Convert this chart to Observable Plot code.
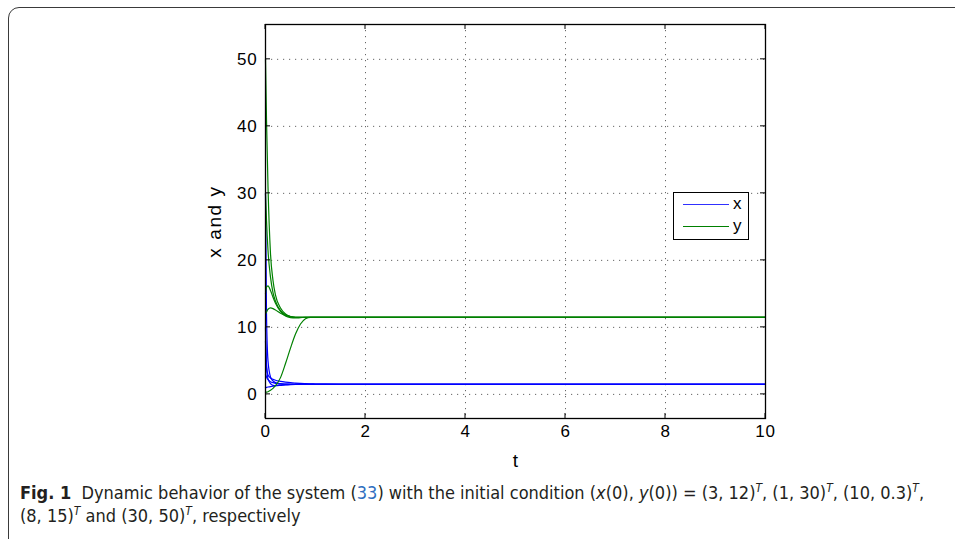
<!DOCTYPE html>
<html><head><meta charset="utf-8">
<script src="https://cdn.jsdelivr.net/npm/d3@7"></script>
<script src="https://cdn.jsdelivr.net/npm/@observablehq/plot@0.6"></script>
<style>
html,body{margin:0;padding:0;background:#fff;width:955px;height:539px;overflow:hidden;position:relative;}
#frame{position:absolute;left:8px;top:7px;width:1000px;height:545px;border:1.3px solid #3a3a3a;border-radius:11px;box-sizing:border-box;}
#chart{position:absolute;left:0;top:0;}
#chart svg, #chart svg text{font-family:"Liberation Sans",Arimo,Arial,Helvetica,sans-serif !important;}
#chart svg g[aria-label="x-axis tick label"] text, #chart svg g[aria-label="y-axis tick label"] text{letter-spacing:0.8px;}
#chart svg g[aria-label="y-axis label"] text{letter-spacing:1.6px;}
#legend{position:absolute;left:673px;top:192px;width:76px;height:48px;border:1px solid #000;background:#fff;box-sizing:border-box;font:17px "Liberation Sans",Arial,sans-serif;}
#legend .ln{position:absolute;left:9px;width:46px;height:0;border-top:1.2px solid;}
#legend .lb{position:absolute;left:59px;line-height:17px;}
#caption{position:absolute;left:20px;top:481px;font-size:18px;font-family:"DejaVu Sans Condensed","Liberation Sans Narrow",sans-serif;line-height:23px;color:#231f20;white-space:nowrap;}
#caption .sup{font-size:12px;vertical-align:0.55em;line-height:0;font-style:italic;}
#caption .ref{color:#2f6fc0;}
</style>
</head><body>
<div id="frame"></div>
<div id="chart"></div>
<div id="legend">
  <div class="ln" style="top:11px;border-color:#3030ff;"></div><div class="lb" style="top:2px;">x</div>
  <div class="ln" style="top:33px;border-color:#008000;"></div><div class="lb" style="top:24px;">y</div>
</div>
<div id="caption"><b>Fig. 1</b>&nbsp; Dynamic behavior of the system (<span class="ref">33</span>) with the initial condition (<i>x</i>(0), <i>y</i>(0)) = (3, 12)<span class="sup">T</span>, (1, 30)<span class="sup">T</span>, (10, 0.3)<span class="sup">T</span>,<br>(8, 15)<span class="sup">T</span> and (30, 50)<span class="sup">T</span>, respectively</div>
<script>
// time samples
const tValues = [0, 0.02, 0.05, 0.1, 0.15, 0.2, 0.3, 0.4, 0.5, 0.6, 0.7, 0.8, 0.9, 1.0, 1.2, 1.5, 2, 10];

// initial condition (3, 12)
const x1 = [3, 2.6, 2.2, 1.9, 1.75, 1.65, 1.56, 1.53, 1.51, 1.5, 1.5, 1.5, 1.5, 1.5, 1.5, 1.5, 1.5, 1.5];
const y1 = [12, 12.3, 12.7, 12.9, 12.8, 12.6, 12.1, 11.8, 11.6, 11.5, 11.5, 11.5, 11.5, 11.5, 11.5, 11.5, 11.5, 11.5];
// initial condition (1, 30)
const x2 = [1, 1.05, 1.1, 1.15, 1.22, 1.3, 1.4, 1.46, 1.49, 1.5, 1.5, 1.5, 1.5, 1.5, 1.5, 1.5, 1.5, 1.5];
const y2 = [30, 26, 21.5, 17.5, 15.2, 13.9, 12.5, 11.9, 11.6, 11.5, 11.5, 11.5, 11.5, 11.5, 11.5, 11.5, 11.5, 11.5];
// initial condition (10, 0.3)
const x3 = [10, 4.5, 2.9, 2.45, 2.25, 2.1, 1.95, 1.84, 1.75, 1.69, 1.64, 1.6, 1.57, 1.55, 1.52, 1.5, 1.5, 1.5];
const y3 = [0.3, 0.33, 0.4, 0.6, 0.9, 1.3, 2.5, 4.6, 6.9, 9.0, 10.5, 11.3, 11.5, 11.5, 11.5, 11.5, 11.5, 11.5];
// initial condition (8, 15)
const x4 = [8, 4.0, 2.3, 1.6, 1.35, 1.3, 1.35, 1.42, 1.46, 1.48, 1.49, 1.5, 1.5, 1.5, 1.5, 1.5, 1.5, 1.5];
const y4 = [15, 16, 16.2, 15.5, 14.5, 13.6, 12.4, 11.7, 11.45, 11.4, 11.45, 11.5, 11.5, 11.5, 11.5, 11.5, 11.5, 11.5];
// initial condition (30, 50)
const x5 = [30, 12, 5, 2.6, 2.0, 1.75, 1.6, 1.54, 1.51, 1.5, 1.5, 1.5, 1.5, 1.5, 1.5, 1.5, 1.5, 1.5];
const y5 = [50, 41, 31, 21, 17, 14.8, 12.9, 12.0, 11.6, 11.5, 11.5, 11.5, 11.5, 11.5, 11.5, 11.5, 11.5, 11.5];

const xTicks = [0, 2, 4, 6, 8, 10];
const yTicks = [0, 10, 20, 30, 40, 50];
const xDomain = [0, 10];
const yDomain = [-3.6, 55.2];

const xRuns = [x1, x2, x3, x4, x5];
const yRuns = [y1, y2, y3, y4, y5];
const rows = [];
xRuns.forEach((arr, r) => arr.forEach((v, i) => rows.push({t: tValues[i], v, variable: "x", run: "x" + r})));
yRuns.forEach((arr, r) => arr.forEach((v, i) => rows.push({t: tValues[i], v, variable: "y", run: "y" + r})));

function innerTicks(index, scales, values, dims) {
  const {x, y} = scales;
  const L = dims.marginLeft, R = dims.width - dims.marginRight;
  const T = dims.marginTop, B = dims.height - dims.marginBottom;
  const g = d3.create("svg:g").attr("stroke", "black").attr("stroke-width", 1);
  for (const v of xTicks) {
    const px = x(v);
    g.append("line").attr("x1", px).attr("x2", px).attr("y1", B).attr("y2", B - 5);
    g.append("line").attr("x1", px).attr("x2", px).attr("y1", T).attr("y2", T + 5);
  }
  for (const v of yTicks) {
    const py = y(v);
    g.append("line").attr("x1", L).attr("x2", L + 5).attr("y1", py).attr("y2", py);
    g.append("line").attr("x1", R).attr("x2", R - 5).attr("y1", py).attr("y2", py);
  }
  return g.node();
}

const chart = Plot.plot({
  width: 955,
  height: 472,
  marginLeft: 265,
  marginRight: 190,
  marginTop: 24,
  marginBottom: 54,
  style: {fontSize: "17px", color: "#000", background: "transparent"},
  x: {domain: xDomain},
  y: {domain: yDomain},
  color: {domain: ["x", "y"], range: ["#0000ff", "#008000"]},
  marks: [
    Plot.gridX(xTicks, {stroke: "#666", strokeOpacity: 1, strokeDasharray: "1.2,4.8"}),
    Plot.gridY(yTicks, {stroke: "#666", strokeOpacity: 1, strokeDasharray: "1.2,4.8"}),
    Plot.axisX(xTicks, {tickSize: 0, tickPadding: 6, fontSize: 17, label: null}),
    Plot.axisX({tickSize: 0, ticks: [], label: "t", labelAnchor: "center", labelArrow: "none", labelOffset: 48, fontSize: 19}),
    Plot.axisY(yTicks, {tickSize: 0, tickPadding: 8, fontSize: 17, label: null}),
    Plot.axisY({tickSize: 0, ticks: [], label: "x and y", labelAnchor: "center", labelArrow: "none", labelOffset: 58, fontSize: 19}),
    Plot.line(rows.filter(d => d.variable === "x"), {x: "t", y: "v", z: "run", stroke: "variable", strokeWidth: 1.2, curve: "monotone-x"}),
    Plot.line(rows.filter(d => d.variable === "y"), {x: "t", y: "v", z: "run", stroke: "variable", strokeWidth: 1.2, curve: "monotone-x"}),
    Plot.frame({stroke: "#000", strokeWidth: 1.3}),
    innerTicks
  ]
});
document.getElementById("chart").appendChild(chart);
</script>
</body></html>
